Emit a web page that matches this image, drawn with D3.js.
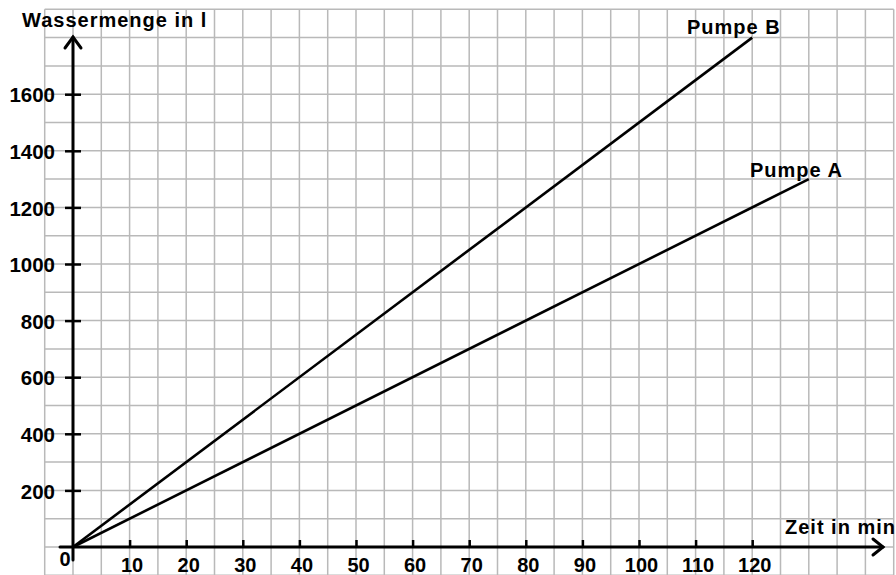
<!DOCTYPE html>
<html>
<head>
  <script src="https://d3js.org/d3.v7.min.js"></script>
  <style>
    body { margin: 0; background: #fff; }
    text { font-family: "Liberation Sans", Arial, sans-serif; font-weight: bold; fill: #000; }
  </style>
</head>
<body>
  <script>
    // Values
    var timeTicks = [10, 20, 30, 40, 50, 60, 70, 80, 90, 100, 110, 120];
    var amountTicks = [200, 400, 600, 800, 1000, 1200, 1400, 1600];
    var pumpATime = [0, 130];
    var pumpAAmount = [0, 1300];
    var pumpBTime = [0, 120];
    var pumpBAmount = [0, 1800];

    var width = 896, height = 575;

    var svg = d3.select("body").append("svg")
      .attr("width", width)
      .attr("height", height);

    // Scales: 5 min and 100 l per grid square
    var x = d3.scaleLinear().domain([-5, 145]).range([44.7, 893.7]);
    var y = d3.scaleLinear().domain([-100, 1900]).range([575.3, 9.3]);

    // Grid
    var grid = svg.append("g").attr("stroke", "#b9b9b9").attr("stroke-width", 1.5);
    grid.selectAll(".v").data(d3.range(-5, 146, 5)).enter().append("line")
      .attr("x1", function(d) { return x(d); })
      .attr("x2", function(d) { return x(d); })
      .attr("y1", y(1900))
      .attr("y2", height);
    grid.selectAll(".h").data(d3.range(-100, 1901, 100)).enter().append("line")
      .attr("x1", x(-5))
      .attr("x2", x(145))
      .attr("y1", function(d) { return y(d); })
      .attr("y2", function(d) { return y(d); });

    // X axis with ticks above the line
    var xAxis = svg.append("g")
      .attr("transform", "translate(0," + y(0) + ")")
      .call(d3.axisBottom(x).tickValues(timeTicks).tickFormat(d3.format("d"))
        .tickSize(-7).tickPadding(11));
    xAxis.select(".domain").remove();
    xAxis.selectAll(".tick line").attr("stroke", "#000").attr("stroke-width", 2.5);
    xAxis.selectAll(".tick text").attr("font-size", 20).attr("dx", 2)
      .attr("font-family", null);

    // Y axis with ticks crossing the line
    var yAxis = svg.append("g")
      .attr("transform", "translate(" + x(0) + ",0)")
      .call(d3.axisLeft(y).tickValues(amountTicks).tickFormat(d3.format("d"))
        .tickSize(8).tickPadding(10));
    yAxis.select(".domain").remove();
    yAxis.selectAll(".tick line").attr("x2", -8).attr("x1", 8)
      .attr("stroke", "#000").attr("stroke-width", 2.5);
    yAxis.selectAll(".tick text").attr("font-size", 20.5).attr("dy", "0.38em")
      .attr("font-family", null);

    // Axis lines with arrows
    var axes = svg.append("g").attr("stroke", "#000").attr("stroke-width", 3)
      .attr("fill", "none").attr("stroke-linecap", "round");
    axes.append("line").attr("x1", 60).attr("x2", 883).attr("y1", y(0)).attr("y2", y(0));
    axes.append("path").attr("d", "M873," + (y(0) - 8) + "L883," + y(0) + "L873," + (y(0) + 8));
    axes.append("line").attr("x1", x(0)).attr("x2", x(0)).attr("y1", 560).attr("y2", 37);
    axes.append("path").attr("d", "M" + (x(0) - 8) + ",48L" + x(0) + ",37L" + (x(0) + 8) + ",48");

    // Origin label
    svg.append("text").attr("x", 65).attr("y", 566).attr("text-anchor", "middle")
      .attr("font-size", 20).text("0");

    // Pump lines
    var line = d3.line()
      .x(function(d) { return x(d[0]); })
      .y(function(d) { return y(d[1]); });

    svg.append("path")
      .datum(d3.zip(pumpATime, pumpAAmount))
      .attr("d", line)
      .attr("fill", "none").attr("stroke", "#000").attr("stroke-width", 2.6);
    svg.append("path")
      .datum(d3.zip(pumpBTime, pumpBAmount))
      .attr("d", line)
      .attr("fill", "none").attr("stroke", "#000").attr("stroke-width", 2.6);

    // Labels
    function label(tx, ty, s) {
      svg.append("text").attr("x", tx).attr("y", ty)
        .attr("font-size", 20).attr("letter-spacing", 1).text(s);
    }
    label(22, 27, "Wassermenge in l");
    label(785, 534, "Zeit in min");
    label(687, 34, "Pumpe B");
    label(750, 177, "Pumpe A");
  </script>
</body>
</html>
